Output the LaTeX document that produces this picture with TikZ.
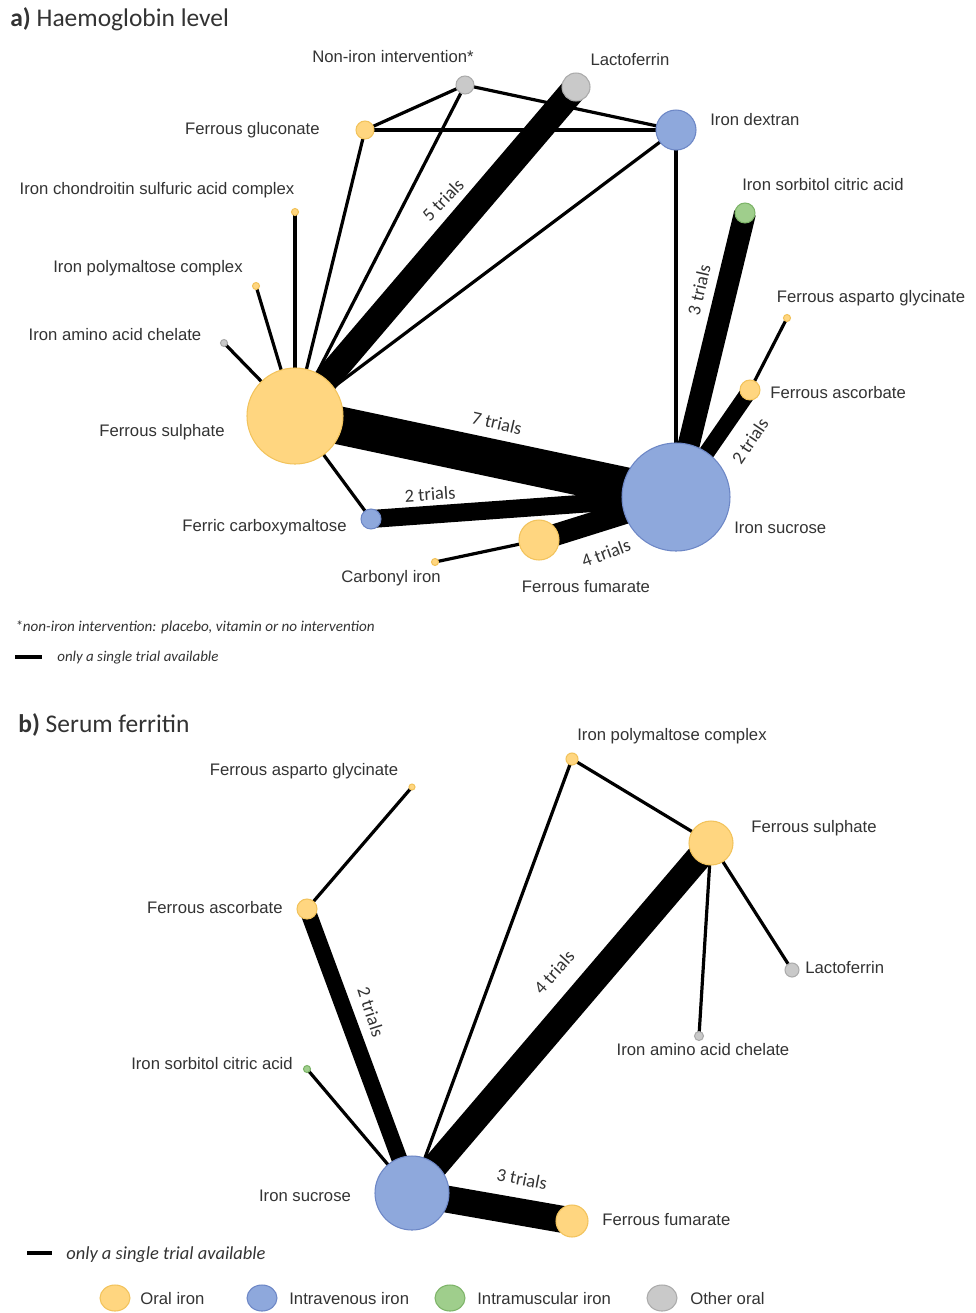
\documentclass[tikz,border=0pt]{standalone}
\usepackage{fontspec}
\setmainfont{Liberation Sans}
\newfontfamily\calib{Carlito}
\usetikzlibrary{shapes.geometric}
\definecolor{OralIron}{HTML}{FFD680}
\definecolor{OralEdge}{HTML}{F2C35C}
\definecolor{IVIron}{HTML}{8EA8DC}
\definecolor{IVEdge}{HTML}{6D87C6}
\definecolor{IMIron}{HTML}{9FCE8C}
\definecolor{IMEdge}{HTML}{7DB468}
\definecolor{OtherOral}{HTML}{C9C9C9}
\definecolor{OtherEdge}{HTML}{ABABAB}
\definecolor{LabelGrey}{HTML}{333333}

\pgfdeclarelayer{edges}
\pgfsetlayers{edges,main}

\tikzset{
  drug/.style={circle, inner sep=0pt, line width=0.6pt, minimum size=#1*0.4mm},
  oral/.style={drug=#1, fill=OralIron, draw=OralEdge},
  iv/.style={drug=#1, fill=IVIron, draw=IVEdge},
  im/.style={drug=#1, fill=IMIron, draw=IMEdge},
  other/.style={drug=#1, fill=OtherOral, draw=OtherEdge},
  lbl/.style={text=LabelGrey, font=\fontsize{9.5}{11}\selectfont, inner sep=0pt},
  trl/.style={text=LabelGrey, font=\calib\fontsize{10.5}{12}\selectfont, inner sep=0pt},
  ttl/.style={text=LabelGrey, font=\calib\fontsize{14.5}{17}\selectfont, inner sep=0pt, anchor=west},
  note/.style={text=LabelGrey, font=\calib\itshape\fontsize{#1}{10}\selectfont, inner sep=0pt, anchor=west},
  single/.style={line width=3.2*0.2mm},
  trials/.style={line width=#1*0.2mm},
  keydot/.style={ellipse, inner sep=0pt, minimum width=30*0.2mm, minimum height=26*0.2mm, line width=0.6pt},
}

\begin{document}
\begin{tikzpicture}[x=0.2mm, y=-0.2mm]
\useasboundingbox (0,0) rectangle (976,1313);
\begin{pgfonlayer}{edges}
\fill[white] (0,0) rectangle (976,1313);
\end{pgfonlayer}

% a) haemoglobin level
\node[ttl] (titleA) at (10,19) {\textbf{a)} Haemoglobin level};

\node[other=9] (nonA) at (465,85) {};
\node[other=14] (lacA) at (576,87) {};
\node[oral=9] (gluA) at (365,130) {};
\node[iv=20] (dexA) at (676,130) {};
\node[oral=3.5] (chonA) at (295,212) {};
\node[im=10] (sorA) at (745,213) {};
\node[oral=3.5] (polA) at (256,286) {};
\node[oral=3.5] (aspA) at (787,318) {};
\node[other=3.5] (amiA) at (224,343) {};
\node[oral=10] (ascA) at (750,390) {};
\node[oral=48] (fsA) at (295,416) {};
\node[iv=54] (isA) at (676,497) {};
\node[iv=10] (fcmA) at (371,519) {};
\node[oral=20] (ffA) at (539,540) {};
\node[oral=3.5] (carA) at (435,562) {};

\node[lbl] (nonAL) at (393,57) {Non-iron intervention*};
\node[lbl] (lacAL) at (630,60) {Lactoferrin};
\node[lbl, anchor=east] (gluAL) at (320,130) {Ferrous gluconate};
\node[lbl, anchor=west] (dexAL) at (710,120) {Iron dextran};
\node[lbl] (chonAL) at (157,190) {Iron chondroitin sulfuric acid complex};
\node[lbl] (sorAL) at (823,185) {Iron sorbitol citric acid};
\node[lbl] (polAL) at (148,268) {Iron polymaltose complex};
\node[lbl] (aspAL) at (871,298) {Ferrous asparto glycinate};
\node[lbl] (amiAL) at (115,335) {Iron amino acid chelate};
\node[lbl, anchor=west] (ascAL) at (770,393) {Ferrous ascorbate};
\node[lbl, anchor=east] (fsAL) at (225,432) {Ferrous sulphate};
\node[lbl, anchor=west] (isAL) at (734,528) {Iron sucrose};
\node[lbl, anchor=east] (fcmAL) at (347,527) {Ferric carboxymaltose};
\node[lbl] (carAL) at (391,578) {Carbonyl iron};
\node[lbl] (ffAL) at (586,587) {Ferrous fumarate};

\begin{pgfonlayer}{edges}
\draw[single] (fsA.center) -- (nonA.center);
\draw[single] (fsA.center) -- (gluA.center);
\draw[single] (fsA.center) -- (dexA.center);
\draw[single] (fsA.center) -- (chonA.center);
\draw[single] (fsA.center) -- (polA.center);
\draw[single] (fsA.center) -- (amiA.center);
\draw[single] (fsA.center) -- (fcmA.center);
\draw[single] (gluA.center) -- (nonA.center);
\draw[single] (gluA.center) -- (dexA.center);
\draw[single] (nonA.center) -- (dexA.center);
\draw[single] (dexA.center) -- (isA.center);
\draw[single] (aspA.center) -- (ascA.center);
\draw[single] (carA.center) -- (ffA.center);
\draw[trials=26] (fsA.center) -- (lacA.center);
\draw[trials=38] (fsA.center) -- (isA.center);
\draw[trials=22] (sorA.center) -- (isA.center);
\draw[trials=16] (ascA.center) -- (isA.center);
\draw[trials=18] (fcmA.center) -- (isA.center);
\draw[trials=22] (ffA.center) -- (isA.center);
\end{pgfonlayer}

\node[trl, rotate=46] (t5A) at (443,200) {5 trials};
\node[trl, rotate=-13] (t7A) at (497,423) {7 trials};
\node[trl, rotate=77] (t3A) at (699,290) {3 trials};
\node[trl, rotate=56] (t2aA) at (750,441) {2 trials};
\node[trl, rotate=4] (t2bA) at (430,494) {2 trials};
\node[trl, rotate=20] (t4A) at (606,553) {4 trials};

\node[note=8.6] (footA) at (15,627) {*non-iron intervention: placebo, vitamin or no intervention};
\coordinate (keyAs) at (15,657);
\coordinate (keyAe) at (42,657);
\draw[line width=4*0.2mm] (keyAs) -- (keyAe);
\node[note=8.5] (keyAL) at (57,658) {only a single trial available};

% b) serum ferritin
\node[ttl] (titleB) at (18,725) {\textbf{b)} Serum ferritin};

\node[oral=6] (polB) at (572,759) {};
\node[oral=3] (aspB) at (412,787) {};
\node[oral=22] (fsB) at (711,843) {};
\node[oral=10] (ascB) at (307,909) {};
\node[other=7] (lacB) at (792,970) {};
\node[other=4.5] (amiB) at (699,1036) {};
\node[im=3.5] (sorB) at (307,1069) {};
\node[iv=37] (isB) at (412,1193) {};
\node[oral=16] (ffB) at (572,1221) {};

\node[lbl] (polBL) at (672,736) {Iron polymaltose complex};
\node[lbl] (aspBL) at (304,771) {Ferrous asparto glycinate};
\node[lbl, anchor=west] (fsBL) at (751,828) {Ferrous sulphate};
\node[lbl, anchor=east] (ascBL) at (283,908) {Ferrous ascorbate};
\node[lbl, anchor=west] (lacBL) at (805,968) {Lactoferrin};
\node[lbl] (amiBL) at (703,1050) {Iron amino acid chelate};
\node[lbl] (sorBL) at (212,1064) {Iron sorbitol citric acid};
\node[lbl] (isBL) at (305,1196) {Iron sucrose};
\node[lbl, anchor=west] (ffBL) at (602,1220) {Ferrous fumarate};

\begin{pgfonlayer}{edges}
\draw[single] (polB.center) -- (fsB.center);
\draw[single] (polB.center) -- (isB.center);
\draw[single] (aspB.center) -- (ascB.center);
\draw[single] (fsB.center) -- (lacB.center);
\draw[single] (fsB.center) -- (amiB.center);
\draw[single] (sorB.center) -- (isB.center);
\draw[trials=16] (ascB.center) -- (isB.center);
\draw[trials=26] (fsB.center) -- (isB.center);
\draw[trials=27] (isB.center) -- (ffB.center);
\end{pgfonlayer}

\node[trl, rotate=-72] (t2B) at (371,1012) {2 trials};
\node[trl, rotate=48] (t4B) at (554,972) {4 trials};
\node[trl, rotate=-11] (t3B) at (522,1179) {3 trials};

\coordinate (keyBs) at (27,1253);
\coordinate (keyBe) at (52,1253);
\draw[line width=4*0.2mm] (keyBs) -- (keyBe);
\node[note=10.5] (keyBL) at (66,1255) {only a single trial available};

\node[keydot, fill=OralIron, draw=OralEdge] (kOral) at (115,1298) {};
\node[keydot, fill=IVIron, draw=IVEdge] (kIV) at (262,1298) {};
\node[keydot, fill=IMIron, draw=IMEdge] (kIM) at (450,1298) {};
\node[keydot, fill=OtherOral, draw=OtherEdge] (kOther) at (662,1298) {};
\node[lbl, anchor=west] (kOralL) at (140,1299) {Oral iron};
\node[lbl, anchor=west] (kIVL) at (289,1299) {Intravenous iron};
\node[lbl, anchor=west] (kIML) at (477,1299) {Intramuscular iron};
\node[lbl, anchor=west] (kOtherL) at (690,1299) {Other oral};
\end{tikzpicture}
\end{document}
